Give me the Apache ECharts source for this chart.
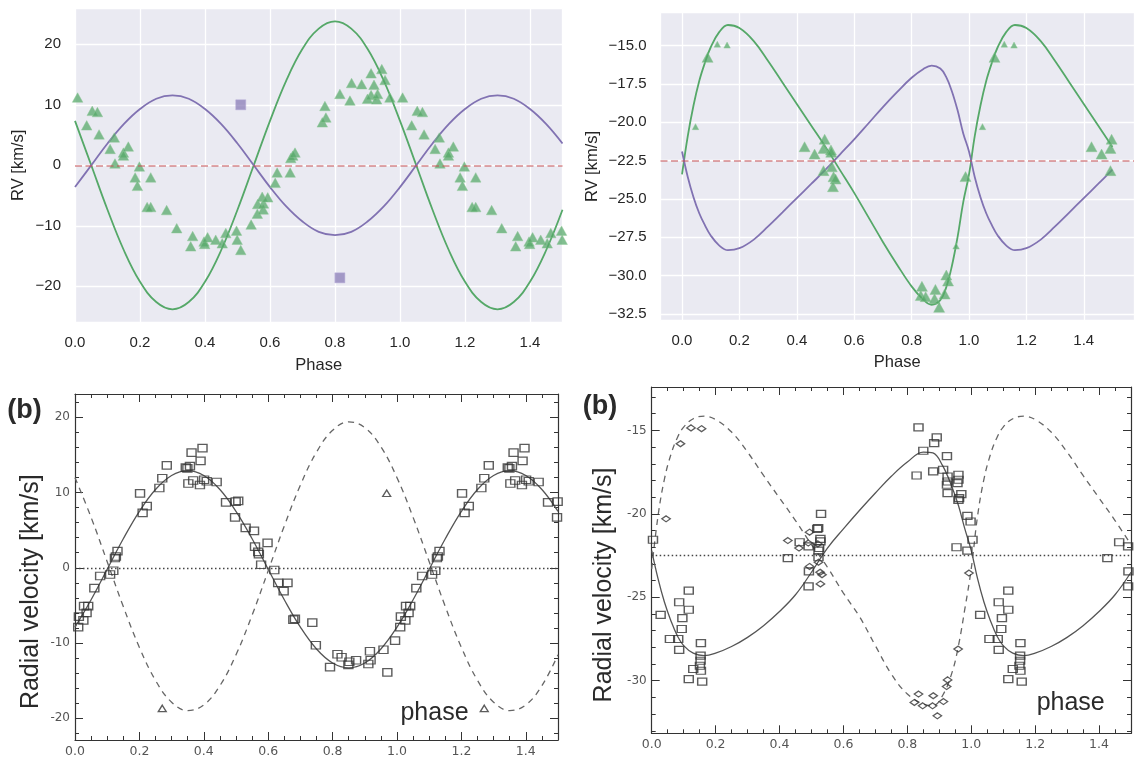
<!DOCTYPE html>
<html>
<head>
<meta charset="utf-8">
<script src="https://cdn.jsdelivr.net/npm/echarts@6/dist/echarts.min.js"></script>
<style>
  html, body { margin: 0; padding: 0; background: #ffffff; }
  #chart { width: 1142px; height: 761px; }
</style>
</head>
<body>
<div id="chart"></div>
<script>
// ---------- orbital fits, sampled along phase ----------
// Upper-left and lower-left panels: sinusoidal fits
const sinePhase = [0, 0.05, 0.1, 0.15, 0.2, 0.25, 0.3, 0.35, 0.4, 0.45, 0.5, 0.55, 0.6, 0.65, 0.7, 0.75,
  0.8, 0.85, 0.9, 0.95, 1.0, 1.05, 1.1, 1.15, 1.2, 1.25, 1.3, 1.35, 1.4, 1.45, 1.5];
const tlGreenFit = [7.35, 0, -7.35, -14.0, -19.25, -22.6, -23.8, -22.6, -19.25, -14.0, -7.35, 0, 7.35, 14.0,
  19.25, 22.6, 23.8, 22.6, 19.25, 14.0, 7.35, 0, -7.35, -14.0, -19.25, -22.6, -23.8, -22.6, -19.25, -14.0, -7.35];
const tlPurpleFit = [-3.6, 0, 3.6, 6.8, 9.3, 11.0, 11.55, 11.0, 9.3, 6.8, 3.6, 0, -3.6, -6.8, -9.3, -11.0,
  -11.55, -11.0, -9.3, -6.8, -3.6, 0, 3.6, 6.8, 9.3, 11.0, 11.55, 11.0, 9.3, 6.8, 3.6];
const blSolidFit = [-7.9, -4.25, -0.2, 3.85, 7.5, 10.4, 12.26, 12.9, 12.26, 10.4, 7.5, 3.85, -0.2, -4.25, -7.9,
  -10.8, -12.66, -13.3, -12.66, -10.8, -7.9, -4.25, -0.2, 3.85, 7.5, 10.4, 12.26, 12.9, 12.26, 10.4, 7.5];
const blDashedFit = [11.97, 6.7, 0.8, -5.16, -10.59, -14.97, -17.87, -18.99, -18.23, -15.68, -11.57, -6.3, -0.4,
  5.56, 10.99, 15.37, 18.27, 19.39, 18.63, 16.08, 11.97, 6.7, 0.8, -5.16, -10.59, -14.97, -17.87, -18.99,
  -18.23, -15.68, -11.57];

// Upper-right panel: eccentric orbit fits
const trPhase = [0, 0.02, 0.04, 0.06, 0.08, 0.10, 0.13, 0.16, 0.20, 0.25, 0.30, 0.35, 0.40, 0.45, 0.50, 0.55,
  0.60, 0.65, 0.70, 0.75, 0.80, 0.84, 0.87, 0.90, 0.92, 0.94, 0.96, 0.98, 1.00, 1.02, 1.04, 1.06, 1.08, 1.10,
  1.13, 1.16, 1.20, 1.25, 1.30, 1.35, 1.40, 1.45, 1.50];
const trGreenFit = [-23.4, -20.9, -18.9, -17.3, -16.1, -15.1, -14.1, -13.65, -13.85, -14.7, -16.0, -17.4, -18.8,
  -20.2, -21.6, -23.1, -24.6, -26.2, -27.8, -29.3, -30.7, -31.55, -31.9, -31.6, -30.8, -29.4, -27.5, -25.2,
  -23.4, -20.9, -18.9, -17.3, -16.1, -15.1, -14.1, -13.65, -13.85, -14.7, -16.0, -17.4, -18.8, -20.2, -21.6];
const trPurpleFit = [-21.9, -23.56, -24.88, -25.93, -26.72, -27.38, -28.04, -28.34, -28.21, -27.65, -26.79,
  -25.87, -24.94, -24.02, -23.09, -22.1, -21.11, -20.06, -19.0, -18.01, -17.09, -16.53, -16.3, -16.49, -17.02,
  -17.95, -19.2, -20.72, -21.9, -23.56, -24.88, -25.93, -26.72, -27.38, -28.04, -28.34, -28.21, -27.65,
  -26.79, -25.87, -24.94, -24.02, -23.09];

// Lower-right panel: eccentric orbit fits
const brPhase = [0, 0.02, 0.04, 0.06, 0.08, 0.10, 0.13, 0.165, 0.20, 0.25, 0.30, 0.35, 0.40, 0.45, 0.50, 0.55,
  0.60, 0.65, 0.70, 0.75, 0.80, 0.85, 0.88, 0.91, 0.94, 0.96, 0.98, 1.00, 1.02, 1.04, 1.06, 1.08, 1.10, 1.13,
  1.165, 1.20, 1.25, 1.30, 1.35, 1.40, 1.45, 1.50];
const brSolidFit = [-22.2, -23.9, -25.3, -26.4, -27.3, -27.9, -28.35, -28.5, -28.35, -27.95, -27.4, -26.7,
  -25.85, -24.85, -23.5, -22.05, -20.9, -19.8, -18.75, -17.75, -16.9, -16.3, -16.35, -17.1, -18.4, -19.5,
  -20.9, -22.2, -23.9, -25.3, -26.4, -27.3, -27.9, -28.35, -28.5, -28.35, -27.95, -27.4, -26.7, -25.85,
  -24.85, -23.5];
const brDashedFit = [-23.3, -20.1, -17.9, -16.45, -15.45, -14.8, -14.3, -14.15, -14.35, -15.1, -16.3, -17.7,
  -19.05, -20.4, -21.85, -23.2, -24.75, -26.15, -27.9, -29.6, -30.8, -31.4, -31.5, -30.9, -29.5, -27.9,
  -25.7, -23.3, -20.1, -17.9, -16.45, -15.45, -14.8, -14.3, -14.15, -14.35, -15.1, -16.3, -17.7, -19.05,
  -20.4, -21.85];

// systemic velocities
const tlGamma = 0;
const trGamma = -22.5;
const blGamma = 0;
const brGamma = -22.5;

// ---------- measured radial velocities [phase, km/s] over one cycle ----------
const tlTriangles = [[0.008, 11.2], [0.036, 6.6], [0.053, 9.0], [0.069, 8.8], [0.074, 5.1], [0.108, 2.7],
  [0.121, 4.6], [0.123, 0.3], [0.149, 2.1], [0.149, 1.6], [0.164, 3.1], [0.185, -2.0], [0.192, -3.4],
  [0.198, -0.2], [0.222, -6.9], [0.233, -6.9], [0.233, -2.0], [0.282, -7.4], [0.313, -10.4], [0.356, -13.4],
  [0.362, -11.7], [0.397, -12.6], [0.399, -13.0], [0.408, -11.9], [0.433, -12.3], [0.453, -12.9],
  [0.464, -11.2], [0.497, -10.8], [0.499, -12.3], [0.510, -14.0], [0.542, -9.8], [0.561, -8.0], [0.562, -6.4],
  [0.576, -5.2], [0.579, -7.3], [0.580, -6.3], [0.593, -5.3], [0.616, -2.9], [0.622, -1.2], [0.662, -1.2],
  [0.664, 1.2], [0.670, 1.6], [0.677, 2.1], [0.761, 7.1], [0.772, 7.9], [0.769, 9.8], [0.815, 11.8],
  [0.846, 10.7], [0.851, 13.6], [0.882, 13.4], [0.900, 11.0], [0.911, 11.6], [0.911, 15.2], [0.920, 13.3],
  [0.928, 10.9], [0.931, 11.8], [0.944, 15.9], [0.954, 14.1], [0.969, 11.2]];
const tlSquares = [[0.510, 10.0], [0.815, -18.6]];

const trTrianglesLarge = [[0.089, -15.76], [0.427, -21.59], [0.462, -22.07], [0.493, -21.7], [0.497, -21.1],
  [0.493, -23.15], [0.519, -21.8], [0.52, -21.95], [0.522, -22.9], [0.528, -23.55], [0.535, -23.7],
  [0.526, -24.2], [0.836, -30.7], [0.832, -31.3], [0.849, -31.37], [0.883, -30.9], [0.880, -31.5],
  [0.896, -32.07], [0.915, -31.2], [0.921, -29.96], [0.927, -30.35], [0.988, -23.54]];
const trTrianglesSmall = [[0.047, -20.28], [0.123, -14.9], [0.157, -14.96], [0.955, -28.07]];

const blSquares = [[0.010, -7.9], [0.012, -6.5], [0.026, -7.0], [0.028, -5.1], [0.036, -6.0], [0.041, -5.1],
  [0.060, -2.7], [0.078, -1.1], [0.109, -0.9], [0.119, -0.4], [0.124, 1.3], [0.127, 1.5], [0.132, 2.2],
  [0.202, 9.9], [0.210, 7.3], [0.223, 8.2], [0.262, 10.6], [0.271, 11.9], [0.285, 13.6], [0.344, 13.3],
  [0.349, 13.2], [0.357, 13.5], [0.352, 11.2], [0.362, 15.3], [0.367, 11.6], [0.388, 11.0], [0.390, 14.2],
  [0.396, 15.9], [0.401, 11.7], [0.409, 11.5], [0.440, 11.4], [0.469, 8.7], [0.497, 6.7], [0.499, 8.8],
  [0.507, 8.9], [0.530, 5.3], [0.556, 4.9], [0.559, 2.8], [0.569, 2.1], [0.571, 1.8], [0.578, 0.4],
  [0.598, 3.3], [0.619, -0.3], [0.631, -2.0], [0.648, -3.1], [0.660, -2.0], [0.678, -6.9], [0.683, -6.8],
  [0.737, -7.3], [0.748, -10.3], [0.792, -13.2], [0.815, -11.5], [0.828, -11.9], [0.849, -12.9],
  [0.852, -12.5], [0.873, -12.3], [0.911, -12.8], [0.916, -11.1], [0.918, -12.3], [0.958, -10.9],
  [0.970, -13.9], [0.994, -9.7]];
const blTriangles = [[0.271, -18.7], [0.968, 9.9]];

const brSquares = [[0.004, -21.55], [0.028, -26.05], [0.057, -27.5], [0.083, -27.5], [0.086, -28.15],
  [0.086, -25.3], [0.094, -26.9], [0.096, -26.25], [0.116, -24.6], [0.116, -25.75], [0.116, -29.9],
  [0.130, -29.3], [0.154, -27.75], [0.153, -28.5], [0.153, -28.8], [0.151, -29.1], [0.154, -29.4],
  [0.158, -30.05], [0.426, -22.65], [0.463, -21.7], [0.491, -21.95], [0.492, -23.45], [0.491, -24.35],
  [0.518, -20.9], [0.521, -20.85], [0.528, -21.5], [0.528, -21.65], [0.524, -22.05], [0.522, -22.2],
  [0.530, -20.0], [0.522, -22.6], [0.835, -14.82], [0.892, -15.42], [0.884, -15.76], [0.850, -16.22],
  [0.924, -16.54], [0.829, -17.7], [0.881, -17.46], [0.912, -17.36], [0.926, -17.76], [0.926, -18.06],
  [0.924, -18.26], [0.926, -18.76], [0.960, -17.66], [0.960, -17.96], [0.957, -18.16], [0.962, -19.06],
  [0.960, -19.16], [0.969, -18.82], [0.988, -20.12], [0.998, -20.46], [0.954, -22.0], [0.988, -22.2]];
const brDiamonds = [[0.045, -20.3], [0.090, -15.8], [0.123, -14.85], [0.156, -14.9], [0.426, -21.6],
  [0.461, -22.05], [0.490, -21.75], [0.494, -21.1], [0.494, -23.15], [0.520, -21.8], [0.522, -22.9],
  [0.527, -23.5], [0.533, -23.65], [0.528, -24.2], [0.822, -31.3], [0.835, -30.8], [0.848, -31.5],
  [0.879, -31.5], [0.881, -30.9], [0.894, -32.1], [0.913, -31.25], [0.923, -30.35], [0.926, -29.95],
  [0.959, -28.1], [0.993, -23.55]];

// ---------- helpers ----------
const zip = (xs, ys) => xs.map((x, i) => [x, ys[i]]);
// phase-folded plots repeat the first half cycle after phase 1
const repeatCycle = pts => pts.concat(pts.filter(p => p[0] < 0.5).map(p => [p[0] + 1, p[1]]));
const uminus = s => s.replace('-', '\u2212');

const sbFont = '"Liberation Sans", Arial, sans-serif';
const idlFont = '"DejaVu Sans", sans-serif';
const sbText = '#262626';
const sbGreen = '#55A868';
const sbPurple = '#8172B2';
const idlInk = '#333333';

// seaborn-style axes (upper panels)
function sbXAxis(gridIndex, min, max, showMin, nameGap) {
  return {
    type: 'value', gridIndex, min, max, minInterval: 0.2, maxInterval: 0.2,
    name: 'Phase', nameLocation: 'middle', nameGap,
    nameTextStyle: { fontFamily: sbFont, fontSize: 16.5, color: sbText },
    axisLine: { show: false }, axisTick: { show: false },
    axisLabel: { margin: 13, fontFamily: sbFont, fontSize: 15, color: sbText,
      showMinLabel: showMin, showMaxLabel: false, formatter: v => uminus(v.toFixed(1)) },
    splitLine: { show: true, lineStyle: { color: '#ffffff', width: 1.3 } }
  };
}
function sbYAxis(gridIndex, min, max, step, digits, nameGap) {
  return {
    type: 'value', gridIndex, min, max, minInterval: step, maxInterval: step,
    name: 'RV [km/s]', nameLocation: 'middle', nameGap,
    nameTextStyle: { fontFamily: sbFont, fontSize: 16.5, color: sbText },
    axisLine: { show: false }, axisTick: { show: false },
    axisLabel: { margin: 14, fontFamily: sbFont, fontSize: 15, color: sbText,
      showMinLabel: false, showMaxLabel: false, formatter: v => uminus(v.toFixed(digits)) },
    splitLine: { show: true, lineStyle: { color: '#ffffff', width: 1.3 } }
  };
}
// IDL-style boxed axes (lower panels), ticks pointing inward on all four sides
function idlAxisCommon(minorSplit) {
  return {
    axisLine: { show: true, onZero: false, lineStyle: { color: idlInk, width: 1.2 } },
    axisTick: { show: true, inside: true, length: 8, lineStyle: { color: idlInk, width: 1 } },
    minorTick: { show: true, splitNumber: minorSplit, length: 4, lineStyle: { color: idlInk, width: 1 } },
    splitLine: { show: false }
  };
}
function idlXAxis(gridIndex, position, showLabels) {
  return Object.assign({
    type: 'value', gridIndex, position, min: 0, max: 1.5, minInterval: 0.2, maxInterval: 0.2,
    axisLabel: { show: showLabels, margin: 5, fontFamily: idlFont, fontSize: 12.5, color: '#555555',
      showMinLabel: true, showMaxLabel: false, formatter: v => v.toFixed(1) }
  }, idlAxisCommon(4));
}
function idlYAxis(gridIndex, position, min, max, step, minorSplit, showLabels) {
  return Object.assign({
    type: 'value', gridIndex, position, min, max, minInterval: step, maxInterval: step,
    axisLabel: { show: showLabels, margin: 5, fontFamily: idlFont, fontSize: 12, color: '#555555',
      showMinLabel: false, showMaxLabel: false, formatter: v => String(v) }
  }, idlAxisCommon(minorSplit));
}

function fitLine(xi, yi, phases, vals, color, width, type) {
  return {
    type: 'line', xAxisIndex: xi, yAxisIndex: yi, data: zip(phases, vals),
    symbol: 'none', showSymbol: false, smooth: 0.4, silent: true, z: 2,
    lineStyle: { color, width, type }
  };
}
function refLine(xi, yi, level, lineStyle) {
  return {
    type: 'line', xAxisIndex: xi, yAxisIndex: yi, data: [], silent: true, z: 1,
    markLine: { silent: true, symbol: ['none', 'none'], label: { show: false }, animation: false,
      lineStyle, emphasis: { disabled: true }, data: [{ yAxis: level }] }
  };
}
function points(xi, yi, data, symbol, size, itemStyle) {
  return { type: 'scatter', xAxisIndex: xi, yAxisIndex: yi, data, symbol, symbolSize: size,
    itemStyle, silent: true, z: 3 };
}

const sbTriStyle = { color: 'rgba(85,168,104,0.92)', borderColor: 'rgba(140,200,150,0.7)', borderWidth: 0.8 };
const sbSquareStyle = { color: 'rgba(129,114,178,0.85)', borderColor: 'rgba(180,170,215,0.8)', borderWidth: 0.8 };
const openStyle = { color: 'rgba(255,255,255,0)', borderColor: idlInk, borderWidth: 1.3 };

const textStyle = (text, font) => ({ text, font, fill: '#2a2a2a', align: 'center', verticalAlign: 'middle',
  textAlign: 'center', textVerticalAlign: 'middle' });
const bigFont = '25px "Liberation Sans", Arial, sans-serif';
const boldFont = 'bold 27px "Liberation Sans", Arial, sans-serif';

const option = {
  animation: false,
  backgroundColor: '#ffffff',
  grid: [
    { left: 75, top: 8.3, width: 487.5, height: 314, show: true, backgroundColor: '#EAEAF2', borderWidth: 0, outerBoundsMode: 'none' },
    { left: 660.5, top: 12.3, width: 473.5, height: 308.4, show: true, backgroundColor: '#EAEAF2', borderWidth: 0, outerBoundsMode: 'none' },
    { left: 75, top: 394, width: 483, height: 346, show: false, outerBoundsMode: 'none' },
    { left: 651.7, top: 387, width: 479.3, height: 346.3, show: false, outerBoundsMode: 'none' }
  ],
  xAxis: [
    sbXAxis(0, 0, 1.5, true, 34.5),
    sbXAxis(1, -0.075, 1.575, false, 33),
    idlXAxis(2, 'bottom', true),
    idlXAxis(2, 'top', false),
    idlXAxis(3, 'bottom', true),
    idlXAxis(3, 'top', false)
  ],
  yAxis: [
    sbYAxis(0, -25.95, 25.95, 10, 0, 48),
    sbYAxis(1, -32.94, -12.82, 2.5, 1, 60),
    idlYAxis(2, 'left', -22.9, 23.1, 10, 5, true),
    idlYAxis(2, 'right', -22.9, 23.1, 10, 5, false),
    idlYAxis(3, 'left', -33.15, -12.4, 5, 5, true),
    idlYAxis(3, 'right', -33.15, -12.4, 5, 5, false)
  ],
  graphic: [
    { type: 'text', x: 24.5, y: 411, style: textStyle('(b)', boldFont) },
    { type: 'text', x: 600, y: 406.7, style: textStyle('(b)', boldFont) },
    { type: 'text', x: 31, y: 591.7, rotation: Math.PI / 2, style: textStyle('Radial velocity [km/s]', bigFont) },
    { type: 'text', x: 604.5, y: 585, rotation: Math.PI / 2, style: textStyle('Radial velocity [km/s]', bigFont) },
    { type: 'text', x: 434.5, y: 713, style: textStyle('phase', bigFont) },
    { type: 'text', x: 1070.7, y: 702.7, style: textStyle('phase', bigFont) }
  ],
  series: [
    // upper left
    refLine(0, 0, tlGamma, { color: 'rgba(196,78,82,0.5)', width: 2, type: [7, 3.5] }),
    fitLine(0, 0, sinePhase, tlGreenFit, sbGreen, 1.8, 'solid'),
    fitLine(0, 0, sinePhase, tlPurpleFit, sbPurple, 1.8, 'solid'),
    points(0, 0, repeatCycle(tlTriangles), 'triangle', [10.5, 9.5], sbTriStyle),
    points(0, 0, repeatCycle(tlSquares), 'rect', 10, sbSquareStyle),
    // upper right
    refLine(1, 1, trGamma, { color: 'rgba(196,78,82,0.5)', width: 2, type: [7, 3.5] }),
    fitLine(1, 1, trPhase, trGreenFit, sbGreen, 1.8, 'solid'),
    fitLine(1, 1, trPhase, trPurpleFit, sbPurple, 1.8, 'solid'),
    points(1, 1, repeatCycle(trTrianglesLarge), 'triangle', [11, 10], sbTriStyle),
    points(1, 1, repeatCycle(trTrianglesSmall), 'triangle', [6.5, 6], sbTriStyle),
    // lower left
    refLine(2, 2, blGamma, { color: '#444444', width: 1.3, type: [1.5, 2.5] }),
    fitLine(2, 2, sinePhase, blSolidFit, '#555555', 1.3, 'solid'),
    fitLine(2, 2, sinePhase, blDashedFit, '#666666', 1.3, [6, 5]),
    points(2, 2, repeatCycle(blSquares), 'rect', [9, 7.5], openStyle),
    points(2, 2, repeatCycle(blTriangles), 'triangle', [8, 6.5], openStyle),
    // lower right
    refLine(4, 4, brGamma, { color: '#444444', width: 1.3, type: [1.5, 2.5] }),
    fitLine(4, 4, brPhase, brSolidFit, '#555555', 1.3, 'solid'),
    fitLine(4, 4, brPhase, brDashedFit, '#666666', 1.3, [6, 5]),
    points(4, 4, repeatCycle(brSquares), 'rect', [9, 7], openStyle),
    points(4, 4, brDiamonds, 'diamond', [8.5, 6], openStyle)
  ]
};

const chart = echarts.init(document.getElementById('chart'), null, { renderer: 'canvas' });
chart.setOption(option);
</script>
</body>
</html>
